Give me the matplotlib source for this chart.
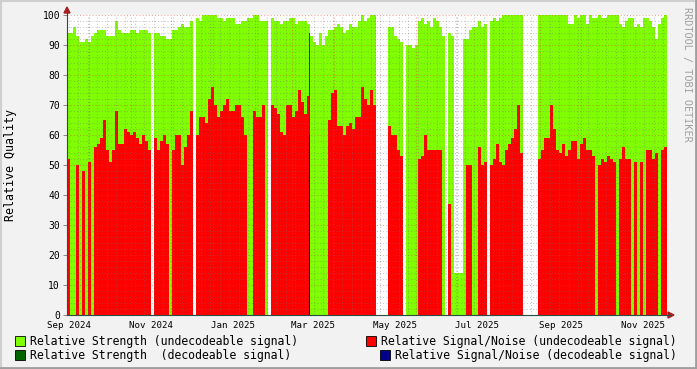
import numpy as np
import pandas as pd
import matplotlib
matplotlib.use('Agg')
import matplotlib.pyplot as plt
import matplotlib.dates as mdates
from matplotlib.patches import Rectangle, Polygon
from matplotlib.lines import Line2D

nan = np.nan

# one value per column, each column ~2.23 days, first column starts 2024-09-14 16:00
start = '2024-09-14 16:00'
step_days = 2.2265

# relative strength (undecodeable signal), nan = no data
strength = [
    94, 94, 96, 93, 91, 91, 92, 91, 93, 94,
    95, 95, 95, 93, 93, 93, 98, 95, 94, 94,
    94, 95, 95, 94, 95, 95, 95, 94, nan, 94,
    94, 93, 93, 92, 92, 95, 95, 96, 97, 96,
    96, 98, nan, 99, 98, 100, 100, 100, 100, 100,
    99, 99, 98, 99, 99, 99, 97, 97, 98, 98,
    99, 99, 100, 100, 98, 98, 98, nan, 99, 98,
    98, 97, 98, 98, 99, 99, 97, 98, 98, 98,
    97, 93, 91, 90, 94, 90, 93, 95, 95, 96,
    97, 96, 94, 95, 97, 96, 96, 98, 100, 98,
    99, 100, 100, nan, nan, nan, nan, 96, 96, 93,
    92, 91, nan, 90, 90, 89, 90, 98, 99, 97,
    98, 96, 99, 98, 96, 93, nan, 94, 93, 14,
    14, 14, 92, 92, 95, 96, 96, 98, 96, 97,
    nan, 98, 99, 98, 99, 100, 100, 100, 100, 100,
    100, 100, nan, nan, nan, nan, nan, 100, 100, 100,
    100, 100, 100, 100, 100, 100, 100, 97, 97, 100,
    99, 100, 100, 97, 100, 99, 99, 100, 99, 99,
    100, 100, 100, 100, 97, 96, 98, 99, 99, 96,
    97, 96, 99, 99, 98, 96, 92, 97, 99, 100,
]

# relative signal/noise (undecodeable signal)
snr = [
    52, 0, 0, 50, 0, 48, 0, 51, 0, 56,
    57, 59, 65, 55, 51, 55, 68, 57, 57, 62,
    61, 60, 61, 59, 57, 60, 58, 55, nan, 59,
    55, 58, 60, 57, 0, 55, 60, 60, 50, 56,
    60, 68, nan, 60, 66, 66, 64, 72, 76, 70,
    66, 68, 70, 72, 68, 68, 70, 70, 66, 60,
    0, 0, 68, 66, 66, 70, 0, nan, 70, 69,
    67, 61, 60, 70, 70, 66, 68, 75, 71, 67,
    73, 0, 0, 0, 0, 0, 0, 65, 74, 75,
    63, 63, 60, 63, 64, 62, 66, 66, 76, 72,
    70, 75, 70, nan, nan, nan, nan, 63, 60, 60,
    55, 53, nan, 0, 0, 0, 0, 52, 53, 60,
    55, 55, 55, 55, 55, 0, nan, 37, 0, 0,
    0, 0, 0, 50, 50, 0, 0, 56, 50, 51,
    nan, 50, 52, 57, 51, 50, 55, 57, 59, 62,
    70, 54, nan, nan, nan, nan, nan, 52, 55, 59,
    59, 70, 62, 55, 54, 57, 53, 55, 58, 58,
    52, 57, 59, 55, 55, 53, 0, 50, 52, 51,
    53, 52, 51, 0, 52, 56, 52, 52, 0, 51,
    0, 51, 0, 55, 55, 52, 54, 0, 55, 56,
]

# decodeable signal samples
dec_dates = ['2025-03-13 00:00']
dec_strength = [94]
dec_snr = [60]

label_months = ['2024-09', '2024-11', '2025-01', '2025-03',
                '2025-05', '2025-07', '2025-09', '2025-11']

W, H = 697, 369
fig = plt.figure(figsize=(W / 100, H / 100), dpi=100, facecolor='#F2F2F2')
ax = fig.add_axes([67 / W, (H - 315) / H, 600 / W, 300 / H], facecolor='white')

mono = 'DejaVu Sans Mono'
c_str, c_snr = '#7FFF00', '#FF0000'
c_dstr, c_dsnr = '#006400', '#00008B'

x0 = mdates.date2num(pd.Timestamp(start))
xs = x0 + np.arange(len(strength)) * step_days
S = np.array(strength, float)
R = np.array(snr, float)

ok = ~np.isnan(S)
ax.bar(xs[ok], S[ok], width=step_days, align='edge', color=c_str,
       linewidth=0, antialiased=False, zorder=1)
ok = ~np.isnan(R) & (R > 0)
ax.bar(xs[ok], R[ok], width=step_days, align='edge', color=c_snr,
       linewidth=0, antialiased=False, zorder=2)

dx = mdates.date2num(pd.to_datetime(dec_dates))
ax.bar(dx, dec_strength, width=step_days / 3, align='edge', color=c_dstr,
       linewidth=0, antialiased=False, zorder=3)
ax.bar(dx, dec_snr, width=step_days / 3, align='edge', color=c_dsnr,
       linewidth=0, antialiased=False, zorder=3)

ax.set_xlim(x0, x0 + len(strength) * step_days)
ax.set_ylim(0, 100)

# grid (rrdtool style, dotted, drawn over the areas)
minor_c = (0.45, 0.45, 0.45, 0.4)
major_c = (0.9, 0.2, 0.2, 0.45)
dots = (0, (1, 2))
for y in range(2, 101, 2):
    ax.axhline(y, color=major_c if y % 10 == 0 else minor_c,
               lw=0.75, ls=dots, zorder=4)
months = pd.date_range('2024-10-01', '2025-12-01', freq='MS')
weeks = pd.date_range('2024-09-16', '2025-12-04', freq='W-MON')
for w in weeks:
    if w.day != 1:
        ax.axvline(mdates.date2num(w), color=minor_c, lw=0.75, ls=dots, zorder=4)
for m in months:
    ax.axvline(mdates.date2num(m), color=major_c, lw=0.75, ls=dots, zorder=4)

for s in ax.spines.values():
    s.set_visible(False)

ax.set_yticks(range(0, 101, 10))
ax.set_yticklabels([str(v) for v in range(0, 101, 10)], family=mono, fontsize=7)
ax.tick_params(axis='y', length=3, width=0.7, color='#888888', pad=2)
xt = [mdates.date2num(pd.Timestamp(m + '-16')) for m in label_months]
ax.set_xticks(xt)
ax.set_xticklabels([pd.Timestamp(m).strftime('%b %Y') for m in label_months],
                   family=mono, fontsize=6.6)
ax.tick_params(axis='x', length=0, pad=4)


def fx(px):
    return px / W


def fy(py):
    return 1 - py / H


# axes lines and arrows
axis_c = '#2C4D43'
fig.add_artist(Line2D([fx(67), fx(67)], [fy(315), fy(12)], color=axis_c, lw=0.8))
fig.add_artist(Line2D([fx(67), fx(670)], [fy(315), fy(315)], color=axis_c, lw=0.8))
arrow_c = '#A52020'
fig.add_artist(Polygon([(fx(64), fy(13)), (fx(70), fy(13)), (fx(67), fy(7))],
                       closed=True, color=arrow_c, transform=fig.transFigure))
fig.add_artist(Polygon([(fx(668), fy(312)), (fx(668), fy(318)), (fx(674), fy(315))],
                       closed=True, color=arrow_c, transform=fig.transFigure))

# frame
fig.add_artist(Line2D([0, 1], [fy(0.5), fy(0.5)], color='#CFCFCF', lw=1.5))
fig.add_artist(Line2D([fx(0.5), fx(0.5)], [0, 1], color='#CFCFCF', lw=1.5))
fig.add_artist(Line2D([0, 1], [fy(H - 1), fy(H - 1)], color='#9E9E9E', lw=2))
fig.add_artist(Line2D([fx(W - 1), fx(W - 1)], [0, 1], color='#9E9E9E', lw=2))

# labels
fig.text(fx(11), fy(165), 'Relative Quality', rotation=90, family=mono,
         fontsize=8.4, ha='center', va='center')
fig.text(fx(687), fy(74), 'RRDTOOL / TOBI OETIKER', rotation=270, family=mono,
         fontsize=7.3, color='#A0A0A0', ha='center', va='center')

# legend
legend = [
    (c_str, 'Relative Strength (undecodeable signal)', 15, 341),
    (c_snr, 'Relative Signal/Noise (undecodeable signal)', 366, 341),
    (c_dstr, 'Relative Strength  (decodeable signal)', 15, 355),
    (c_dsnr, 'Relative Signal/Noise (decodeable signal)', 380, 355),
]
for col, txt, lx, ly in legend:
    fig.add_artist(Rectangle((fx(lx), fy(ly + 5)), 10 / W, 10 / H,
                             facecolor=col, edgecolor='black', lw=0.6,
                             transform=fig.transFigure))
    fig.text(fx(lx + 15), fy(ly), txt, family=mono, fontsize=8.3,
             ha='left', va='center')

fig.savefig('out.png', dpi=100, facecolor=fig.get_facecolor())
